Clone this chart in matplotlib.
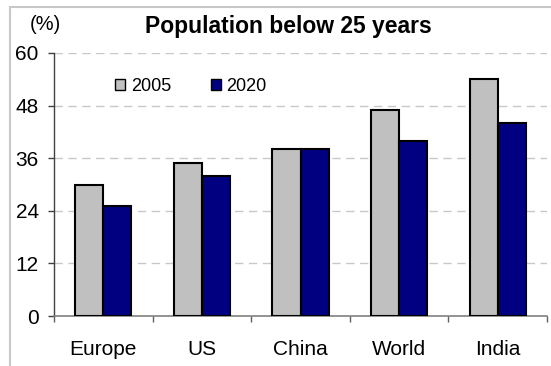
import matplotlib
matplotlib.use("Agg")
import matplotlib.pyplot as plt
from matplotlib.patches import Patch, Rectangle
import numpy as np

plt.rcParams['font.family'] = ['Liberation Sans', 'DejaVu Sans']

categories = ["Europe", "US", "China", "World", "India"]
series_names = ["2005", "2020"]
values_2005 = [30, 35, 38, 47, 54]
values_2020 = [25, 32, 38, 40, 44]
yticks = [0, 12, 24, 36, 48, 60]

fig = plt.figure(figsize=(5.51, 3.66), dpi=100)
ax = fig.add_axes([54/551, 1-316/366, (547-54)/551, (316-53)/366])

x = np.arange(len(categories))
w = 0.284
ax.bar(x - w/2, values_2005, width=w, color='#c0c0c0', edgecolor='black', linewidth=1.5, zorder=3)
ax.bar(x + w/2, values_2020, width=w, color='#000080', edgecolor='black', linewidth=1.5, zorder=3)

ax.set_xlim(-0.5, len(categories) - 0.5)
ax.set_ylim(0, 60)
ax.set_yticks(yticks)
ax.set_yticklabels([str(t) for t in yticks], fontsize=15)
for t in yticks[1:]:
    ax.axhline(t, color='#c8c8c8', linestyle=(0, (6, 4)), linewidth=1, zorder=1)

ax.set_xticks(np.arange(-0.5, len(categories)), minor=False)
ax.set_xticklabels([])
ax.set_xticks(x, minor=True)
ax.set_xticklabels(categories, minor=True, fontsize=15)
ax.tick_params(axis='x', which='major', direction='out', length=4, color='#606060', width=1)
ax.tick_params(axis='x', which='minor', length=0, pad=17)
ax.tick_params(axis='y', direction='out', length=4, color='#404040', width=1, pad=7)

for s in ['top', 'right']:
    ax.spines[s].set_visible(False)
ax.spines['left'].set_color('#404040')
ax.spines['bottom'].set_color('#808080')
ax.spines['left'].set_linewidth(1)
ax.spines['bottom'].set_linewidth(1.2)

handles = [Patch(facecolor='#c0c0c0', edgecolor='black', linewidth=1),
           Patch(facecolor='#000080', edgecolor='black', linewidth=1)]
ax.legend(handles, series_names, loc='center left', bbox_to_anchor=(0.11, 0.873),
          ncol=2, frameon=False, fontsize=13, handlelength=0.55, handleheight=0.55,
          handletextpad=0.3, columnspacing=2.2, borderaxespad=0)

fig.text(288/551, 1-27/366, "Population below 25 years", ha='center', va='center',
         fontsize=16.5, fontweight='bold')
fig.text(45/551, 1-25/366, "(%)", ha='center', va='center', fontsize=14.5)

fig.add_artist(Rectangle((10/551, -0.1), 1.2, 1.1 - 7/366, transform=fig.transFigure,
                         fill=False, edgecolor='#c8c8c8', linewidth=1.5))

fig.savefig("out.png", dpi=100)
